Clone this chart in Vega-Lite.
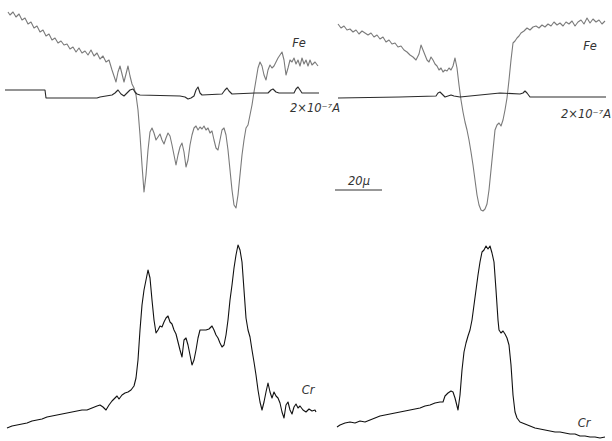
{
  "$schema": "https://vega.github.io/schema/vega-lite/v6.json",
  "width": 612,
  "height": 441,
  "autosize": {"type": "fit", "contains": "padding"},
  "padding": 0,
  "background": "white",
  "config": {"view": {"stroke": null}},
  "datasets": {
    "traces": [
      {"trace":"FeL","x":8,"y":12},{"trace":"FeL","x":10,"y":15},{"trace":"FeL","x":13,"y":12},{"trace":"FeL","x":16,"y":17},{"trace":"FeL","x":19,"y":14},{"trace":"FeL","x":22,"y":20},{"trace":"FeL","x":25,"y":18},{"trace":"FeL","x":28,"y":24},{"trace":"FeL","x":31,"y":22},{"trace":"FeL","x":34,"y":28},{"trace":"FeL","x":37,"y":26},{"trace":"FeL","x":40,"y":32},{"trace":"FeL","x":43,"y":30},{"trace":"FeL","x":46,"y":36},{"trace":"FeL","x":49,"y":34},{"trace":"FeL","x":52,"y":40},{"trace":"FeL","x":55,"y":38},{"trace":"FeL","x":58,"y":43},{"trace":"FeL","x":61,"y":41},{"trace":"FeL","x":64,"y":45},{"trace":"FeL","x":67,"y":44},{"trace":"FeL","x":70,"y":49},{"trace":"FeL","x":73,"y":47},{"trace":"FeL","x":76,"y":52},{"trace":"FeL","x":79,"y":48},{"trace":"FeL","x":82,"y":53},{"trace":"FeL","x":85,"y":51},{"trace":"FeL","x":88,"y":55},{"trace":"FeL","x":91,"y":50},{"trace":"FeL","x":94,"y":56},{"trace":"FeL","x":97,"y":53},{"trace":"FeL","x":100,"y":59},{"trace":"FeL","x":103,"y":56},{"trace":"FeL","x":106,"y":62},{"trace":"FeL","x":109,"y":60},{"trace":"FeL","x":112,"y":70},{"trace":"FeL","x":114,"y":76},{"trace":"FeL","x":116,"y":82},{"trace":"FeL","x":118,"y":72},{"trace":"FeL","x":120,"y":66},{"trace":"FeL","x":122,"y":74},{"trace":"FeL","x":124,"y":82},{"trace":"FeL","x":126,"y":74},{"trace":"FeL","x":128,"y":66},{"trace":"FeL","x":130,"y":76},{"trace":"FeL","x":132,"y":84},{"trace":"FeL","x":134,"y":88},{"trace":"FeL","x":136,"y":95},{"trace":"FeL","x":138,"y":110},{"trace":"FeL","x":140,"y":135},{"trace":"FeL","x":142,"y":165},{"trace":"FeL","x":144,"y":192},{"trace":"FeL","x":146,"y":175},{"trace":"FeL","x":148,"y":150},{"trace":"FeL","x":150,"y":132},{"trace":"FeL","x":152,"y":128},{"trace":"FeL","x":154,"y":133},{"trace":"FeL","x":156,"y":140},{"trace":"FeL","x":158,"y":137},{"trace":"FeL","x":160,"y":134},{"trace":"FeL","x":162,"y":140},{"trace":"FeL","x":164,"y":144},{"trace":"FeL","x":166,"y":138},{"trace":"FeL","x":168,"y":133},{"trace":"FeL","x":170,"y":136},{"trace":"FeL","x":172,"y":145},{"trace":"FeL","x":174,"y":155},{"trace":"FeL","x":176,"y":165},{"trace":"FeL","x":178,"y":155},{"trace":"FeL","x":180,"y":147},{"trace":"FeL","x":182,"y":143},{"trace":"FeL","x":184,"y":152},{"trace":"FeL","x":186,"y":167},{"trace":"FeL","x":188,"y":160},{"trace":"FeL","x":190,"y":145},{"trace":"FeL","x":192,"y":135},{"trace":"FeL","x":194,"y":128},{"trace":"FeL","x":196,"y":126},{"trace":"FeL","x":198,"y":130},{"trace":"FeL","x":200,"y":127},{"trace":"FeL","x":202,"y":129},{"trace":"FeL","x":204,"y":126},{"trace":"FeL","x":206,"y":130},{"trace":"FeL","x":208,"y":128},{"trace":"FeL","x":210,"y":133},{"trace":"FeL","x":212,"y":131},{"trace":"FeL","x":214,"y":140},{"trace":"FeL","x":216,"y":148},{"trace":"FeL","x":218,"y":150},{"trace":"FeL","x":220,"y":140},{"trace":"FeL","x":222,"y":130},{"trace":"FeL","x":224,"y":128},{"trace":"FeL","x":226,"y":135},{"trace":"FeL","x":228,"y":150},{"trace":"FeL","x":230,"y":170},{"trace":"FeL","x":232,"y":190},{"trace":"FeL","x":234,"y":205},{"trace":"FeL","x":236,"y":208},{"trace":"FeL","x":238,"y":195},{"trace":"FeL","x":240,"y":175},{"trace":"FeL","x":242,"y":155},{"trace":"FeL","x":244,"y":140},{"trace":"FeL","x":246,"y":128},{"trace":"FeL","x":248,"y":125},{"trace":"FeL","x":250,"y":115},{"trace":"FeL","x":252,"y":105},{"trace":"FeL","x":254,"y":92},{"trace":"FeL","x":256,"y":80},{"trace":"FeL","x":258,"y":68},{"trace":"FeL","x":260,"y":62},{"trace":"FeL","x":262,"y":66},{"trace":"FeL","x":264,"y":75},{"trace":"FeL","x":266,"y":80},{"trace":"FeL","x":268,"y":70},{"trace":"FeL","x":270,"y":65},{"trace":"FeL","x":272,"y":68},{"trace":"FeL","x":274,"y":66},{"trace":"FeL","x":276,"y":62},{"trace":"FeL","x":278,"y":58},{"trace":"FeL","x":280,"y":55},{"trace":"FeL","x":282,"y":52},{"trace":"FeL","x":284,"y":60},{"trace":"FeL","x":286,"y":75},{"trace":"FeL","x":288,"y":68},{"trace":"FeL","x":290,"y":60},{"trace":"FeL","x":292,"y":62},{"trace":"FeL","x":294,"y":58},{"trace":"FeL","x":296,"y":64},{"trace":"FeL","x":298,"y":60},{"trace":"FeL","x":300,"y":66},{"trace":"FeL","x":302,"y":58},{"trace":"FeL","x":304,"y":64},{"trace":"FeL","x":306,"y":60},{"trace":"FeL","x":308,"y":66},{"trace":"FeL","x":310,"y":60},{"trace":"FeL","x":312,"y":65},{"trace":"FeL","x":315,"y":62},{"trace":"FeL","x":318,"y":66},
      {"trace":"IL","x":5,"y":90},{"trace":"IL","x":45,"y":90},{"trace":"IL","x":46,"y":98},{"trace":"IL","x":97,"y":98},{"trace":"IL","x":100,"y":97},{"trace":"IL","x":112,"y":95},{"trace":"IL","x":115,"y":93},{"trace":"IL","x":118,"y":90},{"trace":"IL","x":121,"y":94},{"trace":"IL","x":124,"y":96},{"trace":"IL","x":127,"y":93},{"trace":"IL","x":130,"y":90},{"trace":"IL","x":133,"y":89},{"trace":"IL","x":135,"y":92},{"trace":"IL","x":137,"y":94},{"trace":"IL","x":140,"y":95},{"trace":"IL","x":180,"y":96},{"trace":"IL","x":185,"y":97},{"trace":"IL","x":188,"y":99},{"trace":"IL","x":191,"y":98},{"trace":"IL","x":194,"y":96},{"trace":"IL","x":196,"y":90},{"trace":"IL","x":198,"y":87},{"trace":"IL","x":200,"y":93},{"trace":"IL","x":202,"y":95},{"trace":"IL","x":222,"y":94},{"trace":"IL","x":225,"y":90},{"trace":"IL","x":227,"y":88},{"trace":"IL","x":229,"y":91},{"trace":"IL","x":232,"y":94},{"trace":"IL","x":255,"y":93},{"trace":"IL","x":268,"y":93},{"trace":"IL","x":271,"y":90},{"trace":"IL","x":273,"y":89},{"trace":"IL","x":276,"y":92},{"trace":"IL","x":279,"y":93},{"trace":"IL","x":294,"y":93},{"trace":"IL","x":296,"y":89},{"trace":"IL","x":298,"y":87},{"trace":"IL","x":300,"y":90},{"trace":"IL","x":302,"y":93},{"trace":"IL","x":319,"y":93},
      {"trace":"FeR","x":338,"y":24},{"trace":"FeR","x":341,"y":28},{"trace":"FeR","x":344,"y":26},{"trace":"FeR","x":347,"y":30},{"trace":"FeR","x":350,"y":29},{"trace":"FeR","x":353,"y":32},{"trace":"FeR","x":356,"y":30},{"trace":"FeR","x":359,"y":34},{"trace":"FeR","x":362,"y":31},{"trace":"FeR","x":365,"y":33},{"trace":"FeR","x":368,"y":35},{"trace":"FeR","x":371,"y":33},{"trace":"FeR","x":374,"y":37},{"trace":"FeR","x":377,"y":35},{"trace":"FeR","x":380,"y":39},{"trace":"FeR","x":383,"y":37},{"trace":"FeR","x":386,"y":42},{"trace":"FeR","x":389,"y":40},{"trace":"FeR","x":392,"y":44},{"trace":"FeR","x":395,"y":43},{"trace":"FeR","x":398,"y":47},{"trace":"FeR","x":401,"y":46},{"trace":"FeR","x":404,"y":50},{"trace":"FeR","x":407,"y":52},{"trace":"FeR","x":410,"y":55},{"trace":"FeR","x":413,"y":57},{"trace":"FeR","x":416,"y":60},{"trace":"FeR","x":419,"y":54},{"trace":"FeR","x":421,"y":45},{"trace":"FeR","x":423,"y":50},{"trace":"FeR","x":425,"y":55},{"trace":"FeR","x":427,"y":60},{"trace":"FeR","x":429,"y":62},{"trace":"FeR","x":431,"y":57},{"trace":"FeR","x":433,"y":60},{"trace":"FeR","x":435,"y":64},{"trace":"FeR","x":437,"y":66},{"trace":"FeR","x":439,"y":70},{"trace":"FeR","x":441,"y":68},{"trace":"FeR","x":443,"y":72},{"trace":"FeR","x":445,"y":70},{"trace":"FeR","x":447,"y":71},{"trace":"FeR","x":449,"y":68},{"trace":"FeR","x":451,"y":70},{"trace":"FeR","x":453,"y":66},{"trace":"FeR","x":455,"y":58},{"trace":"FeR","x":457,"y":68},{"trace":"FeR","x":459,"y":85},{"trace":"FeR","x":461,"y":100},{"trace":"FeR","x":463,"y":112},{"trace":"FeR","x":465,"y":122},{"trace":"FeR","x":467,"y":130},{"trace":"FeR","x":469,"y":140},{"trace":"FeR","x":471,"y":152},{"trace":"FeR","x":473,"y":165},{"trace":"FeR","x":475,"y":180},{"trace":"FeR","x":477,"y":195},{"trace":"FeR","x":479,"y":205},{"trace":"FeR","x":481,"y":210},{"trace":"FeR","x":483,"y":211},{"trace":"FeR","x":485,"y":209},{"trace":"FeR","x":487,"y":204},{"trace":"FeR","x":489,"y":190},{"trace":"FeR","x":491,"y":170},{"trace":"FeR","x":493,"y":150},{"trace":"FeR","x":495,"y":130},{"trace":"FeR","x":497,"y":125},{"trace":"FeR","x":499,"y":123},{"trace":"FeR","x":501,"y":126},{"trace":"FeR","x":503,"y":120},{"trace":"FeR","x":505,"y":110},{"trace":"FeR","x":507,"y":98},{"trace":"FeR","x":509,"y":80},{"trace":"FeR","x":511,"y":60},{"trace":"FeR","x":513,"y":43},{"trace":"FeR","x":515,"y":41},{"trace":"FeR","x":517,"y":38},{"trace":"FeR","x":519,"y":36},{"trace":"FeR","x":521,"y":33},{"trace":"FeR","x":524,"y":31},{"trace":"FeR","x":527,"y":28},{"trace":"FeR","x":530,"y":30},{"trace":"FeR","x":533,"y":27},{"trace":"FeR","x":536,"y":26},{"trace":"FeR","x":539,"y":28},{"trace":"FeR","x":542,"y":25},{"trace":"FeR","x":545,"y":27},{"trace":"FeR","x":548,"y":24},{"trace":"FeR","x":551,"y":26},{"trace":"FeR","x":554,"y":22},{"trace":"FeR","x":557,"y":25},{"trace":"FeR","x":560,"y":23},{"trace":"FeR","x":563,"y":26},{"trace":"FeR","x":566,"y":22},{"trace":"FeR","x":569,"y":24},{"trace":"FeR","x":572,"y":21},{"trace":"FeR","x":575,"y":26},{"trace":"FeR","x":578,"y":22},{"trace":"FeR","x":581,"y":20},{"trace":"FeR","x":584,"y":24},{"trace":"FeR","x":587,"y":18},{"trace":"FeR","x":590,"y":23},{"trace":"FeR","x":593,"y":19},{"trace":"FeR","x":596,"y":22},{"trace":"FeR","x":599,"y":20},{"trace":"FeR","x":602,"y":24},{"trace":"FeR","x":605,"y":21},
      {"trace":"IR","x":338,"y":98},{"trace":"IR","x":400,"y":97},{"trace":"IR","x":436,"y":96},{"trace":"IR","x":438,"y":93},{"trace":"IR","x":440,"y":92},{"trace":"IR","x":442,"y":94},{"trace":"IR","x":445,"y":97},{"trace":"IR","x":448,"y":96},{"trace":"IR","x":451,"y":95},{"trace":"IR","x":454,"y":96},{"trace":"IR","x":460,"y":97},{"trace":"IR","x":470,"y":96},{"trace":"IR","x":480,"y":95},{"trace":"IR","x":500,"y":93},{"trace":"IR","x":520,"y":94},{"trace":"IR","x":523,"y":93},{"trace":"IR","x":525,"y":91},{"trace":"IR","x":527,"y":93},{"trace":"IR","x":530,"y":97},{"trace":"IR","x":606,"y":97},
      {"trace":"CrL","x":7,"y":428},{"trace":"CrL","x":12,"y":426},{"trace":"CrL","x":17,"y":425},{"trace":"CrL","x":22,"y":424},{"trace":"CrL","x":27,"y":423},{"trace":"CrL","x":32,"y":421},{"trace":"CrL","x":37,"y":420},{"trace":"CrL","x":42,"y":419},{"trace":"CrL","x":47,"y":417},{"trace":"CrL","x":52,"y":416},{"trace":"CrL","x":57,"y":415},{"trace":"CrL","x":62,"y":414},{"trace":"CrL","x":67,"y":413},{"trace":"CrL","x":72,"y":412},{"trace":"CrL","x":77,"y":411},{"trace":"CrL","x":82,"y":410},{"trace":"CrL","x":87,"y":410},{"trace":"CrL","x":92,"y":408},{"trace":"CrL","x":97,"y":406},{"trace":"CrL","x":100,"y":405},{"trace":"CrL","x":103,"y":407},{"trace":"CrL","x":106,"y":410},{"trace":"CrL","x":109,"y":405},{"trace":"CrL","x":112,"y":401},{"trace":"CrL","x":115,"y":398},{"trace":"CrL","x":117,"y":396},{"trace":"CrL","x":119,"y":399},{"trace":"CrL","x":122,"y":395},{"trace":"CrL","x":125,"y":393},{"trace":"CrL","x":128,"y":392},{"trace":"CrL","x":131,"y":390},{"trace":"CrL","x":134,"y":386},{"trace":"CrL","x":136,"y":378},{"trace":"CrL","x":138,"y":360},{"trace":"CrL","x":140,"y":330},{"trace":"CrL","x":142,"y":305},{"trace":"CrL","x":144,"y":290},{"trace":"CrL","x":146,"y":280},{"trace":"CrL","x":148,"y":270},{"trace":"CrL","x":150,"y":278},{"trace":"CrL","x":152,"y":300},{"trace":"CrL","x":154,"y":320},{"trace":"CrL","x":156,"y":333},{"trace":"CrL","x":158,"y":330},{"trace":"CrL","x":160,"y":326},{"trace":"CrL","x":162,"y":327},{"trace":"CrL","x":164,"y":322},{"trace":"CrL","x":166,"y":318},{"trace":"CrL","x":168,"y":316},{"trace":"CrL","x":170,"y":322},{"trace":"CrL","x":172,"y":324},{"trace":"CrL","x":174,"y":330},{"trace":"CrL","x":176,"y":334},{"trace":"CrL","x":178,"y":342},{"trace":"CrL","x":180,"y":350},{"trace":"CrL","x":182,"y":357},{"trace":"CrL","x":184,"y":340},{"trace":"CrL","x":186,"y":338},{"trace":"CrL","x":188,"y":345},{"trace":"CrL","x":190,"y":355},{"trace":"CrL","x":192,"y":365},{"trace":"CrL","x":194,"y":360},{"trace":"CrL","x":196,"y":350},{"trace":"CrL","x":198,"y":338},{"trace":"CrL","x":200,"y":330},{"trace":"CrL","x":203,"y":330},{"trace":"CrL","x":206,"y":330},{"trace":"CrL","x":209,"y":329},{"trace":"CrL","x":212,"y":326},{"trace":"CrL","x":214,"y":330},{"trace":"CrL","x":216,"y":335},{"trace":"CrL","x":218,"y":338},{"trace":"CrL","x":220,"y":343},{"trace":"CrL","x":222,"y":347},{"trace":"CrL","x":224,"y":345},{"trace":"CrL","x":226,"y":335},{"trace":"CrL","x":228,"y":320},{"trace":"CrL","x":230,"y":300},{"trace":"CrL","x":232,"y":285},{"trace":"CrL","x":234,"y":268},{"trace":"CrL","x":236,"y":255},{"trace":"CrL","x":238,"y":245},{"trace":"CrL","x":240,"y":250},{"trace":"CrL","x":242,"y":262},{"trace":"CrL","x":244,"y":290},{"trace":"CrL","x":246,"y":318},{"trace":"CrL","x":248,"y":330},{"trace":"CrL","x":250,"y":337},{"trace":"CrL","x":252,"y":350},{"trace":"CrL","x":254,"y":362},{"trace":"CrL","x":256,"y":375},{"trace":"CrL","x":258,"y":390},{"trace":"CrL","x":260,"y":402},{"trace":"CrL","x":262,"y":410},{"trace":"CrL","x":264,"y":402},{"trace":"CrL","x":266,"y":392},{"trace":"CrL","x":268,"y":383},{"trace":"CrL","x":270,"y":392},{"trace":"CrL","x":272,"y":398},{"trace":"CrL","x":274,"y":392},{"trace":"CrL","x":276,"y":396},{"trace":"CrL","x":278,"y":398},{"trace":"CrL","x":280,"y":403},{"trace":"CrL","x":282,"y":412},{"trace":"CrL","x":284,"y":418},{"trace":"CrL","x":286,"y":405},{"trace":"CrL","x":288,"y":402},{"trace":"CrL","x":290,"y":410},{"trace":"CrL","x":292,"y":414},{"trace":"CrL","x":294,"y":407},{"trace":"CrL","x":296,"y":404},{"trace":"CrL","x":298,"y":408},{"trace":"CrL","x":300,"y":406},{"trace":"CrL","x":303,"y":410},{"trace":"CrL","x":306,"y":412},{"trace":"CrL","x":309,"y":409},{"trace":"CrL","x":312,"y":411},{"trace":"CrL","x":315,"y":410},{"trace":"CrL","x":316,"y":412},
      {"trace":"CrR","x":337,"y":427},{"trace":"CrR","x":340,"y":425},{"trace":"CrR","x":345,"y":423},{"trace":"CrR","x":350,"y":422},{"trace":"CrR","x":355,"y":423},{"trace":"CrR","x":360,"y":421},{"trace":"CrR","x":365,"y":422},{"trace":"CrR","x":370,"y":420},{"trace":"CrR","x":375,"y":418},{"trace":"CrR","x":380,"y":416},{"trace":"CrR","x":385,"y":415},{"trace":"CrR","x":390,"y":414},{"trace":"CrR","x":395,"y":413},{"trace":"CrR","x":400,"y":412},{"trace":"CrR","x":405,"y":411},{"trace":"CrR","x":410,"y":410},{"trace":"CrR","x":415,"y":409},{"trace":"CrR","x":420,"y":408},{"trace":"CrR","x":425,"y":406},{"trace":"CrR","x":430,"y":405},{"trace":"CrR","x":435,"y":403},{"trace":"CrR","x":440,"y":402},{"trace":"CrR","x":443,"y":402},{"trace":"CrR","x":445,"y":396},{"trace":"CrR","x":448,"y":393},{"trace":"CrR","x":451,"y":391},{"trace":"CrR","x":453,"y":392},{"trace":"CrR","x":455,"y":398},{"trace":"CrR","x":457,"y":406},{"trace":"CrR","x":458,"y":410},{"trace":"CrR","x":460,"y":395},{"trace":"CrR","x":462,"y":370},{"trace":"CrR","x":464,"y":352},{"trace":"CrR","x":466,"y":343},{"trace":"CrR","x":468,"y":336},{"trace":"CrR","x":470,"y":330},{"trace":"CrR","x":472,"y":320},{"trace":"CrR","x":474,"y":305},{"trace":"CrR","x":476,"y":290},{"trace":"CrR","x":478,"y":275},{"trace":"CrR","x":480,"y":262},{"trace":"CrR","x":482,"y":252},{"trace":"CrR","x":484,"y":250},{"trace":"CrR","x":486,"y":246},{"trace":"CrR","x":488,"y":249},{"trace":"CrR","x":490,"y":246},{"trace":"CrR","x":492,"y":253},{"trace":"CrR","x":494,"y":262},{"trace":"CrR","x":496,"y":290},{"trace":"CrR","x":498,"y":320},{"trace":"CrR","x":499,"y":330},{"trace":"CrR","x":501,"y":333},{"trace":"CrR","x":503,"y":331},{"trace":"CrR","x":505,"y":334},{"trace":"CrR","x":507,"y":338},{"trace":"CrR","x":509,"y":345},{"trace":"CrR","x":511,"y":365},{"trace":"CrR","x":513,"y":395},{"trace":"CrR","x":515,"y":412},{"trace":"CrR","x":517,"y":418},{"trace":"CrR","x":520,"y":422},{"trace":"CrR","x":525,"y":424},{"trace":"CrR","x":530,"y":426},{"trace":"CrR","x":535,"y":428},{"trace":"CrR","x":540,"y":429},{"trace":"CrR","x":545,"y":430},{"trace":"CrR","x":550,"y":431},{"trace":"CrR","x":555,"y":432},{"trace":"CrR","x":560,"y":432},{"trace":"CrR","x":565,"y":433},{"trace":"CrR","x":570,"y":434},{"trace":"CrR","x":575,"y":434},{"trace":"CrR","x":580,"y":436},{"trace":"CrR","x":585,"y":436},{"trace":"CrR","x":590,"y":437},{"trace":"CrR","x":595,"y":437},{"trace":"CrR","x":600,"y":438},{"trace":"CrR","x":605,"y":437}
    ],
    "labels": [
      {"label":"Fe","x":299,"y":44},
      {"label":"2×10⁻⁷A","x":315,"y":109},
      {"label":"Fe","x":590,"y":47},
      {"label":"2×10⁻⁷A","x":586,"y":115},
      {"label":"20μ","x":359,"y":182},
      {"label":"Cr","x":308,"y":391},
      {"label":"Cr","x":584,"y":424}
    ],
    "scalebar": [
      {"x":335,"x2":382,"y":190}
    ]
  },
  "layer": [
    {
      "data": {"name": "traces"},
      "mark": {"type": "line", "interpolate": "linear", "strokeJoin": "round"},
      "encoding": {
        "x": {"field": "x", "type": "quantitative", "scale": {"domain": [0, 612], "nice": false, "zero": false}, "axis": null},
        "y": {"field": "y", "type": "quantitative", "scale": {"domain": [0, 441], "nice": false, "reverse": true}, "axis": null},
        "detail": {"field": "trace"},
        "color": {"field": "trace", "type": "nominal", "legend": null,
          "scale": {"domain": ["FeL","FeR","IL","IR","CrL","CrR"], "range": ["#7a7a7a","#7a7a7a","#2a2a2a","#2a2a2a","#111111","#111111"]}},
        "strokeWidth": {"field": "trace", "type": "nominal", "legend": null,
          "scale": {"domain": ["FeL","FeR","IL","IR","CrL","CrR"], "range": [1.1, 1.1, 1.6, 1.6, 2, 2]}}
      }
    },
    {
      "data": {"name": "scalebar"},
      "mark": {"type": "rule", "color": "#333", "strokeWidth": 1.2},
      "encoding": {
        "x": {"field": "x", "type": "quantitative"},
        "x2": {"field": "x2"},
        "y": {"field": "y", "type": "quantitative"}
      }
    },
    {
      "data": {"name": "labels"},
      "mark": {"type": "text", "font": "DejaVu Sans", "fontStyle": "italic", "fontSize": 11.5, "color": "#333", "align": "center", "baseline": "middle"},
      "encoding": {
        "x": {"field": "x", "type": "quantitative"},
        "y": {"field": "y", "type": "quantitative"},
        "text": {"field": "label"}
      }
    }
  ]
}
